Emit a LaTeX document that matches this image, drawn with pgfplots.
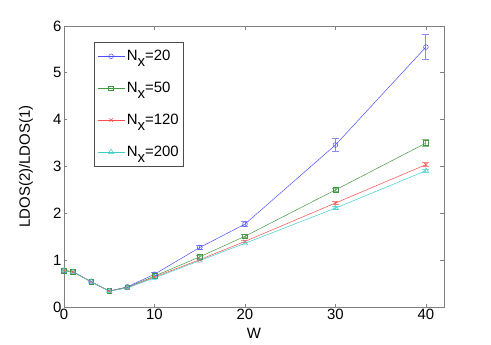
\documentclass[border=0pt]{standalone}
\usepackage{fontspec}
\setmainfont{Liberation Sans}
\usepackage{pgfplots}
\pgfplotsset{compat=1.18}
\definecolor{mblue}{rgb}{0.3,0.3,1}
\definecolor{mgreen}{rgb}{0.25,0.6,0.25}
\definecolor{mred}{rgb}{1,0.3,0.3}
\definecolor{mcyan}{rgb}{0.25,0.8,0.8}
\newcommand{\Nx}{N\raisebox{-6bp}{x}}
\pgfplotsset{ebar/.style={color=#1!65!white, line width=0.9pt, mark=-, mark size=3.5pt, mark options={line width=0.8pt}, forget plot}}
\begin{document}
\begin{tikzpicture}
\path[use as bounding box] (-64bp,-38bp) rectangle (427bp,307bp);
\begin{axis}[at={(0,0)}, anchor=south west, scale only axis, width=380bp, height=281bp,
  xmin=0, xmax=42, ymin=0, ymax=6,
  xtick={0,10,20,30,40}, ytick={0,1,2,3,4,5,6},
  tick align=inside, major tick length=3.5bp,
  axis line style={black!50, line width=0.75pt}, tick style={black!50, line width=0.75pt},
  font=\fontsize{15}{17}\selectfont,
  /pgf/number format/assume math mode=true,
  xticklabel style={yshift=1bp}, yticklabel style={xshift=1bp},
  xlabel={W}, ylabel={LDOS(2)/LDOS(1)},
  xlabel style={at={(axis description cs:0.5,-0.093)}, anchor=center},
  ylabel style={at={(axis description cs:-0.1,0.5)}, anchor=center},
  legend style={at={(0.079,0.943)}, anchor=north west, draw=black!70, line width=0.6pt, fill=white,
    font=\fontsize{15}{17}\selectfont, row sep=16bp, inner xsep=3bp, inner ysep=6bp},
  legend cell align=left,
  legend image code/.code={\draw[mark repeat=2, mark phase=2] plot coordinates {(0bp,0bp) (13.5bp,0bp) (27bp,0bp)};},
  every axis plot/.append style={line width=0.5pt, mark size=2.4pt, mark options={solid}}]
% error bars: vertical segments with caps
\addplot[ebar=mblue] coordinates {(40,5.28) (40,5.82)};
\addplot[ebar=mblue] coordinates {(30,3.32) (30,3.60)};
\addplot[ebar=mblue] coordinates {(20,1.72) (20,1.82)};
\addplot[ebar=mblue] coordinates {(15,1.23) (15,1.31)};
\addplot[ebar=mblue] coordinates {(10,0.67) (10,0.73)};
\addplot[ebar=mgreen] coordinates {(40,3.43) (40,3.57)};
\addplot[ebar=mgreen] coordinates {(30,2.46) (30,2.54)};
\addplot[ebar=mgreen] coordinates {(20,1.48) (20,1.54)};
\addplot[ebar=mgreen] coordinates {(15,1.04) (15,1.10)};
\addplot[ebar=mred] coordinates {(40,3.00) (40,3.08)};
\addplot[ebar=mred] coordinates {(30,2.19) (30,2.25)};
\addplot[ebar=mred] coordinates {(20,1.38) (20,1.42)};
\addplot[ebar=mcyan] coordinates {(40,2.88) (40,2.94)};
\addplot[ebar=mcyan] coordinates {(30,2.08) (30,2.14)};
% series
\addplot[mblue, mark=o] coordinates {
  (0,0.78) (1,0.75) (3,0.54) (5,0.34) (7,0.43) (10,0.70) (15,1.27) (20,1.77) (30,3.46) (40,5.55)};
\addlegendentry{\Nx=20}
\addplot[mgreen, mark=square] coordinates {
  (0,0.78) (1,0.75) (3,0.54) (5,0.34) (7,0.42) (10,0.66) (15,1.07) (20,1.51) (30,2.50) (40,3.50)};
\addlegendentry{\Nx=50}
\addplot[mred, mark=x] coordinates {
  (0,0.78) (1,0.75) (3,0.54) (5,0.34) (7,0.41) (10,0.64) (15,1.01) (20,1.40) (30,2.22) (40,3.04)};
\addlegendentry{\Nx=120}
\addplot[mcyan, mark=triangle, mark size=3pt] coordinates {
  (0,0.78) (1,0.75) (3,0.54) (5,0.34) (7,0.41) (10,0.62) (15,0.99) (20,1.36) (30,2.11) (40,2.91)};
\addlegendentry{\Nx=200}
\end{axis}
\end{tikzpicture}
\end{document}
